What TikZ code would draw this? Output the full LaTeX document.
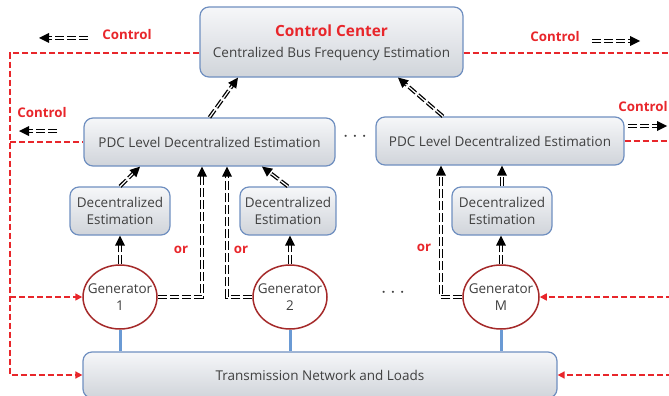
\documentclass[tikz,border=0pt]{standalone}
\usepackage{fontspec}
\setmainfont{Open Sans}
\usetikzlibrary{arrows.meta,decorations.markings,shapes.geometric,calc}
\definecolor{txt}{HTML}{404040}
\definecolor{bord}{HTML}{6F8FC0}
\definecolor{boxtop}{HTML}{F6F7F9}
\definecolor{boxbot}{HTML}{D0D4DA}
\definecolor{genred}{HTML}{A52A2A}
\definecolor{ctrlred}{HTML}{E8262B}
\definecolor{linkblue}{HTML}{6A9AD4}
\tikzset{
 box/.style={draw=bord, line width=1.2pt, rounded corners=9pt, top color=boxtop, bottom color=boxbot, text=txt, font=\fontsize{13.5}{17.5}\selectfont, align=center, inner sep=0pt},
 gen/.style={ellipse, draw=genred, line width=1.5pt, fill=white, text=txt, font=\fontsize{13.5}{17.5}\selectfont, align=center, inner xsep=-8pt, inner ysep=-6pt},
 ctrl/.style={draw=ctrlred, line width=1.6pt, dash pattern=on 6pt off 3pt},
 ctrlarr/.style={ctrl, -{Triangle[length=7pt,width=7pt]}},
 darr/.style={
   postaction={draw=black, line width=3.8pt, dash pattern=on 9pt off 3pt, shorten >=7pt},
   postaction={draw=white, line width=1.2pt, dash pattern=on 9pt off 3pt, shorten >=7pt},
   postaction={decorate},
   decoration={markings, mark=at position 1 with {\fill[black] (0pt,0pt) -- (-10pt,5pt) -- (-10pt,-5pt) -- cycle;}}},
 lbl/.style={text=ctrlred, font=\bfseries\fontsize{13.3}{15}\selectfont},
 blink/.style={draw=linkblue, line width=3pt},
 dots/.style={text=txt, font=\fontsize{22}{24}\selectfont},
}
\begin{document}
\begin{tikzpicture}[x=1pt,y=-1pt]
\useasboundingbox (0,0) rectangle (669,396);
% boxes
\node[box, minimum width=263pt, minimum height=70pt] (cc) at (331.5,42) {};
\node[text=ctrlred, font=\bfseries\fontsize{15.4}{17}\selectfont] (cctitle) at (331.5,31) {Control Center};
\node[text=txt, font=\fontsize{13.5}{16}\selectfont] (ccsub) at (331.5,54) {Centralized Bus Frequency Estimation};
\node[box, minimum width=251pt, minimum height=48pt] (pdc1) at (209.5,142) {PDC Level Decentralized Estimation};
\node[box, minimum width=248pt, minimum height=48pt] (pdc2) at (500,141) {PDC Level Decentralized Estimation};
\node[box, minimum width=100pt, minimum height=48pt] (dec1) at (120,211) {Decentralized\\Estimation};
\node[box, minimum width=96pt, minimum height=48pt] (dec2) at (288,211) {Decentralized\\Estimation};
\node[box, minimum width=100pt, minimum height=48pt] (dec3) at (502,211) {Decentralized\\Estimation};
\node[box, minimum width=474pt, minimum height=46pt] (tn) at (320,375) {Transmission Network and Loads};
% generators
\node[gen, minimum width=74pt, minimum height=64pt] (gen1) at (120,297) {Generator\\1};
\node[gen, minimum width=74pt, minimum height=64pt] (gen2) at (290,297) {Generator\\2};
\node[gen, minimum width=76pt, minimum height=64pt] (genM) at (501,297) {Generator\\M};
% dots
\node[dots] (dotsA) at (355,137) {$\cdots$};
\node[dots] (dotsB) at (393,293) {$\cdots$};
% blue links
\draw[blink] (gen1.south) -- (gen1.south |- tn.north);
\draw[blink] (gen2.south) -- (gen2.south |- tn.north);
\draw[blink] (genM.south) -- (genM.south |- tn.north);
% red control lines
\coordinate (lt) at (10,53);
\coordinate (lp) at (10,142);
\coordinate (lg) at (10,297);
\coordinate (lb) at (10,375);
\draw[ctrlarr] ([yshift=-11pt]cc.west) -- (lt) -- (lb) -- (tn.west);
\draw[draw=ctrlred, line width=1.6pt, dash pattern=on 6pt off 3pt] (lp) -- (pdc1.west);
\draw[ctrlarr] (lg) -- (gen1.west);
\coordinate (rc) at (672,53);
\coordinate (rp) at (672,141);
\coordinate (rg) at (672,297);
\coordinate (rt) at (672,375);
\draw[ctrl] ([yshift=-11pt]cc.east) -- (rc);
\draw[ctrl] (pdc2.east) -- (rp);
\draw[ctrlarr] (rg) -- (genM.east);
\draw[ctrlarr] (rt) -- (tn.east);
% control labels
\node[lbl] (l1) at (127,35) {Control};
\node[lbl] (l2) at (42,113) {Control};
\node[lbl] (l3) at (555,37) {Control};
\node[lbl] (l4) at (643,107) {Control};
\coordinate (c1s) at (88,38); \coordinate (c1e) at (39,38);
\coordinate (c2s) at (57,131); \coordinate (c2e) at (19,131);
\coordinate (c3s) at (592,41); \coordinate (c3e) at (640,41);
\coordinate (c4s) at (628,126); \coordinate (c4e) at (667,126);
\path[darr] (c1s) -- (c1e);
\path[darr] (c2s) -- (c2e);
\path[darr] (c3s) -- (c3e);
\path[darr] (c4s) -- (c4e);
% black data arrows
\path[darr] (pdc1.north) -- (cc.south -| 238,0);
\path[darr] (pdc2.north -| 443,0) -- (cc.south -| 398,0);
\path[darr] (dec1.north) -- (pdc1.south -| 140,0);
\path[darr] (dec2.north) -- (pdc1.south -| 262,0);
\path[darr] (gen1.east) -| (pdc1.south -| 202,0);
\path[darr] (gen2.west) -| (pdc1.south -| 227,0);
\path[darr] (genM.west) -| (pdc2.south -| 441,0);
\path[darr] (gen1.north) -- (dec1.south);
\path[darr] (gen2.north) -- (dec2.south -| gen2.north);
\path[darr] (genM.north) -- (dec3.south -| genM.north);
\path[darr] (dec3.north) -- (dec3.north |- pdc2.south);
% or labels
\node[lbl] (or1) at (181,250) {or};
\node[lbl] (or2) at (241,250) {or};
\node[lbl] (or3) at (424,248) {or};
\end{tikzpicture}
\end{document}
